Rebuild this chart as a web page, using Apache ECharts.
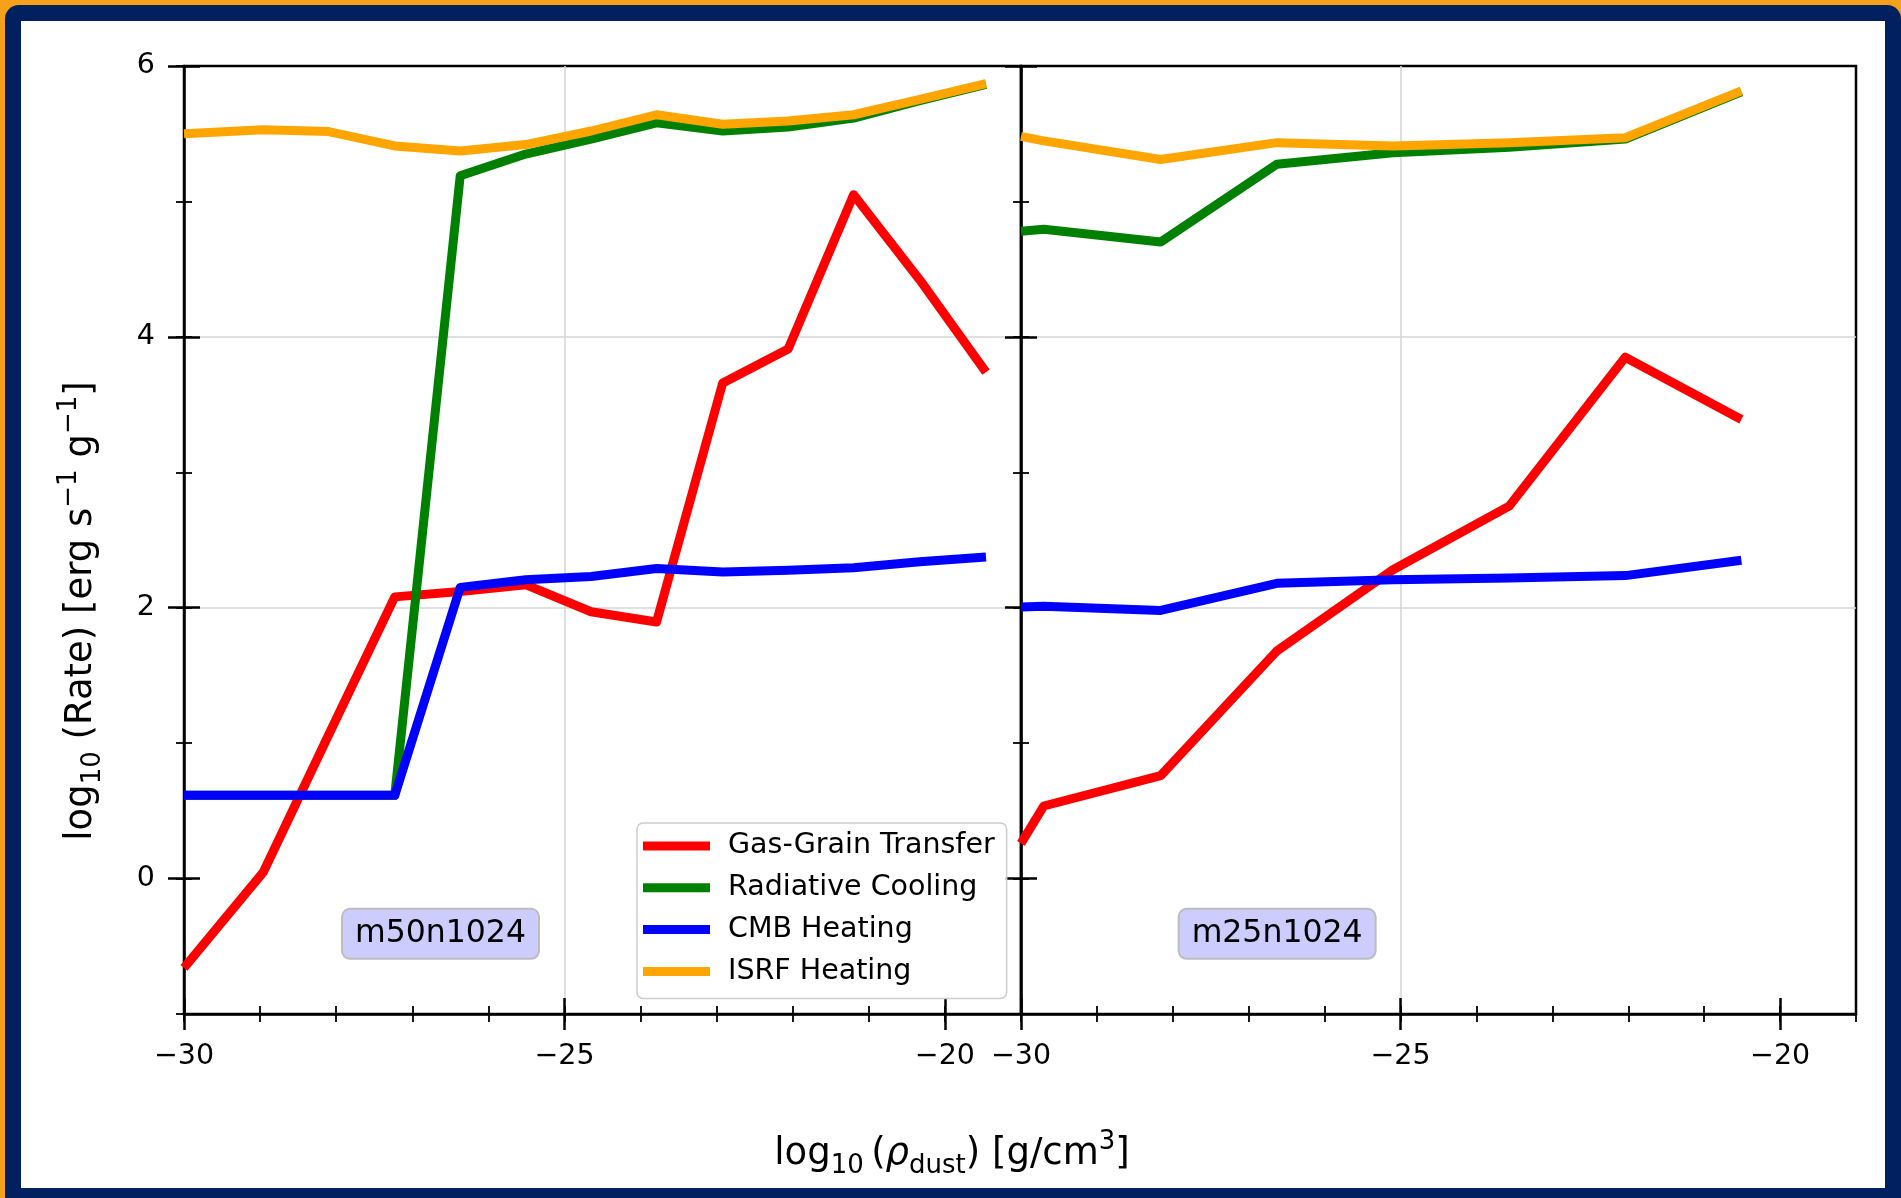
<!DOCTYPE html>
<html>
<head>
<meta charset="utf-8">
<title>Dust heating and cooling rates</title>
<script src="https://cdn.jsdelivr.net/npm/echarts@6/dist/echarts.min.js"></script>
<style>
  html, body { margin: 0; padding: 0; width: 1901px; height: 1198px; overflow: hidden; background: #f6a11c; }
  #frame { position: absolute; left: 5px; top: 5px; right: 0; bottom: 0; background: #00205f; border-radius: 14px 14px 0 0; }
  #paper { position: absolute; left: 21px; top: 21px; right: 16px; bottom: 10px; background: #ffffff; }
  #chart { position: absolute; left: 0; top: 0; width: 1901px; height: 1198px; }
</style>
</head>
<body>
<div id="frame"></div>
<div id="paper"></div>
<div id="chart"></div>
<script>
// ---- data: log10 rates [erg s^-1 g^-1] against log10 dust density [g/cm^3] ----
const seriesNames = ['Gas-Grain Transfer', 'Radiative Cooling', 'CMB Heating', 'ISRF Heating'];

// m50n1024 run
const rhoM50 = [-30.0, -28.96, -28.10, -27.23, -26.37, -25.51, -24.65, -23.79, -22.92, -22.06, -21.20, -20.33, -19.46];
const gasGrainM50 = [-0.66, 0.045, 1.06, 2.08, 2.12, 2.17, 1.97, 1.895, 3.66, 3.91, 5.05, 4.42, 3.74];
const radCoolM50 = [0.615, 0.615, 0.615, 0.615, 5.19, 5.35, 5.46, 5.58, 5.52, 5.55, 5.615, 5.745, 5.865];
const cmbHeatM50 = [0.615, 0.615, 0.615, 0.615, 2.15, 2.206, 2.23, 2.29, 2.264, 2.277, 2.295, 2.34, 2.375];
const isrfHeatM50 = [5.50, 5.53, 5.516, 5.41, 5.373, 5.42, 5.52, 5.64, 5.57, 5.594, 5.64, 5.754, 5.87];

// m25n1024 run
const rhoM25 = [-30.0, -29.70, -28.16, -26.63, -25.10, -23.57, -22.04, -20.51];
const gasGrainM25 = [0.26, 0.536, 0.76, 1.68, 2.28, 2.75, 3.85, 3.39];
const radCoolM25 = [4.78, 4.795, 4.70, 5.275, 5.36, 5.40, 5.46, 5.81];
const cmbHeatM25 = [2.005, 2.01, 1.98, 2.18, 2.206, 2.22, 2.237, 2.35];
const isrfHeatM25 = [5.48, 5.447, 5.31, 5.434, 5.41, 5.434, 5.47, 5.816];

const panelLabels = ['m50n1024', 'm25n1024'];

// axis ranges and tick values
const xRange = [-30, -19];
const yRange = [-1, 6];
const xMajorTicks = [-30, -25, -20];
const yMajorTicks = [0, 2, 4, 6];

// ---- styling ----
const FONT = 'DejaVu Sans';
const lineColors = ['#ff0000', '#008000', '#0000ff', '#ffa500'];
const LINE_W = 9;
const SPINE_W = 2.5;
const GRID_COLOR = '#d6d6d6';
const TICK_FS = 28.5;

const panels = [
  { left: 184, top: 66, width: 837, height: 948, rho: rhoM50, rates: [gasGrainM50, radCoolM50, cmbHeatM50, isrfHeatM50] },
  { left: 1021, top: 66, width: 835, height: 948, rho: rhoM25, rates: [gasGrainM25, radCoolM25, cmbHeatM25, isrfHeatM25] }
];

const minusFmt = v => (v < 0 ? '\u2212' + (-v) : String(v));
const tickLine = w => ({ color: '#000', width: w });

function xAxesFor(g) {
  const base = { type: 'value', gridIndex: g, min: xRange[0], max: xRange[1], position: 'bottom', axisPointer: { show: false } };
  return [
    Object.assign({}, base, {
      interval: 5,
      axisLine: { show: true, onZero: false, lineStyle: tickLine(SPINE_W) },
      axisTick: { show: true, customValues: xMajorTicks, inside: false, length: 16, lineStyle: tickLine(SPINE_W) },
      axisLabel: { show: true, customValues: xMajorTicks, formatter: minusFmt, margin: 28, fontSize: TICK_FS, fontFamily: FONT, color: '#000' },
      splitLine: { show: true, showMinLine: false, showMaxLine: false, lineStyle: { color: GRID_COLOR, width: 1.6 } }
    }),
    Object.assign({}, base, {
      interval: 5,
      axisLine: { show: false, onZero: false },
      axisTick: { show: true, customValues: xMajorTicks, inside: true, length: 16, lineStyle: tickLine(SPINE_W) },
      axisLabel: { show: false }, splitLine: { show: false }
    }),
    Object.assign({}, base, {
      interval: 1,
      axisLine: { show: false, onZero: false },
      axisTick: { show: true, inside: false, length: 8, lineStyle: tickLine(1.8) },
      axisLabel: { show: false }, splitLine: { show: false }
    }),
    Object.assign({}, base, {
      interval: 1,
      axisLine: { show: false, onZero: false },
      axisTick: { show: true, inside: true, length: 8, lineStyle: tickLine(1.8) },
      axisLabel: { show: false }, splitLine: { show: false }
    })
  ];
}

function yAxesFor(g, withLabels) {
  const base = { type: 'value', gridIndex: g, min: yRange[0], max: yRange[1], interval: 1, position: 'left', axisPointer: { show: false } };
  return [
    Object.assign({}, base, {
      axisLine: { show: true, onZero: false, lineStyle: tickLine(SPINE_W) },
      axisTick: { show: true, customValues: yMajorTicks, inside: false, length: 16, lineStyle: tickLine(SPINE_W) },
      axisLabel: { show: withLabels, customValues: yMajorTicks, formatter: minusFmt, margin: 29, fontSize: TICK_FS, fontFamily: FONT, color: '#000' },
      splitLine: { show: true, showMinLine: false, showMaxLine: false, lineStyle: { color: GRID_COLOR, width: 1.6 } }
    }),
    Object.assign({}, base, {
      axisLine: { show: false, onZero: false },
      axisTick: { show: true, customValues: yMajorTicks, inside: true, length: 16, lineStyle: tickLine(SPINE_W) },
      axisLabel: { show: false }, splitLine: { show: false }
    }),
    Object.assign({}, base, {
      axisLine: { show: false, onZero: false },
      axisTick: { show: true, inside: false, length: 8, lineStyle: tickLine(1.8) },
      axisLabel: { show: false }, splitLine: { show: false }
    }),
    Object.assign({}, base, {
      axisLine: { show: false, onZero: false },
      axisTick: { show: true, inside: true, length: 8, lineStyle: tickLine(1.8) },
      axisLabel: { show: false }, splitLine: { show: false }
    })
  ];
}

const grids = panels.map(p => ({
  left: p.left, top: p.top, width: p.width, height: p.height,
  show: true, borderColor: '#000', borderWidth: SPINE_W, backgroundColor: 'transparent', containLabel: false
}));

const xAxes = [].concat(xAxesFor(0), xAxesFor(1));
const yAxes = [].concat(yAxesFor(0, true), yAxesFor(1, false));

const series = [];
panels.forEach((p, g) => {
  p.rates.forEach((vals, k) => {
    series.push({
      name: seriesNames[k],
      type: 'line',
      xAxisIndex: 4 * g,
      yAxisIndex: 4 * g,
      data: p.rho.map((x, i) => [x, vals[i]]),
      symbol: 'none',
      showSymbol: false,
      clip: true,
      z: 3 + k,
      lineStyle: { color: lineColors[k], width: LINE_W, join: 'round', cap: 'butt' },
      itemStyle: { color: lineColors[k] },
      emphasis: { disabled: true }
    });
  });
});

// boxed run labels, placed in axes fractions of each panel
const runTitles = panels.map((p, g) => ({
  text: panelLabels[g],
  left: p.left + 0.1888 * p.width,
  top: p.top + 0.889 * p.height,
  padding: [7, 13, 7, 13],
  backgroundColor: '#ccccff',
  borderColor: '#bdbdbd',
  borderWidth: 2,
  borderRadius: 8,
  textStyle: { fontFamily: FONT, fontSize: 31.5, fontWeight: 'normal', color: '#000', lineHeight: 36 }
}));

const richMath = {
  n: { fontFamily: FONT, fontSize: 37, lineHeight: 50, fill: '#000' },
  i: { fontFamily: FONT, fontSize: 37, lineHeight: 50, fontStyle: 'italic', fill: '#000' },
  s: { fontFamily: FONT, fontSize: 26, lineHeight: 30, verticalAlign: 'bottom', fill: '#000' },
  p: { fontFamily: FONT, fontSize: 26, lineHeight: 36, verticalAlign: 'top', fill: '#000' }
};

const option = {
  animation: false,
  backgroundColor: 'transparent',
  title: runTitles,
  grid: grids,
  xAxis: xAxes,
  yAxis: yAxes,
  legend: {
    data: seriesNames,
    orient: 'vertical',
    left: 637,
    top: 823,
    icon: 'rect',
    itemWidth: 67,
    itemHeight: 9,
    itemGap: 11.8,
    padding: [8, 12, 12, 6],
    selectedMode: false,
    backgroundColor: 'rgba(255,255,255,0.8)',
    borderColor: '#cccccc',
    borderWidth: 1.5,
    borderRadius: 6,
    textStyle: { fontFamily: FONT, fontSize: 28.5, color: '#000', lineHeight: 30, padding: [0, 0, 0, 13] },
    z: 10
  },
  graphic: [
    {
      type: 'text', x: 952, y: 1154, z: 20,
      style: {
        text: '{n|log}{s|10}{n|\u2009(}{i|\u03c1}{s|dust}{n|) [g/cm}{p|3}{n|]}',
        rich: richMath, align: 'center', verticalAlign: 'middle'
      }
    },
    {
      type: 'text', x: 81, y: 611, rotation: Math.PI / 2, z: 20,
      style: {
        text: '{n|log}{s|10}{n| (Rate) [erg s}{p|\u22121}{n| g}{p|\u22121}{n|]}',
        rich: richMath, align: 'center', verticalAlign: 'middle'
      }
    }
  ],
  series: series
};

const chart = echarts.init(document.getElementById('chart'), null, { renderer: 'canvas' });
chart.setOption(option);
</script>
</body>
</html>
